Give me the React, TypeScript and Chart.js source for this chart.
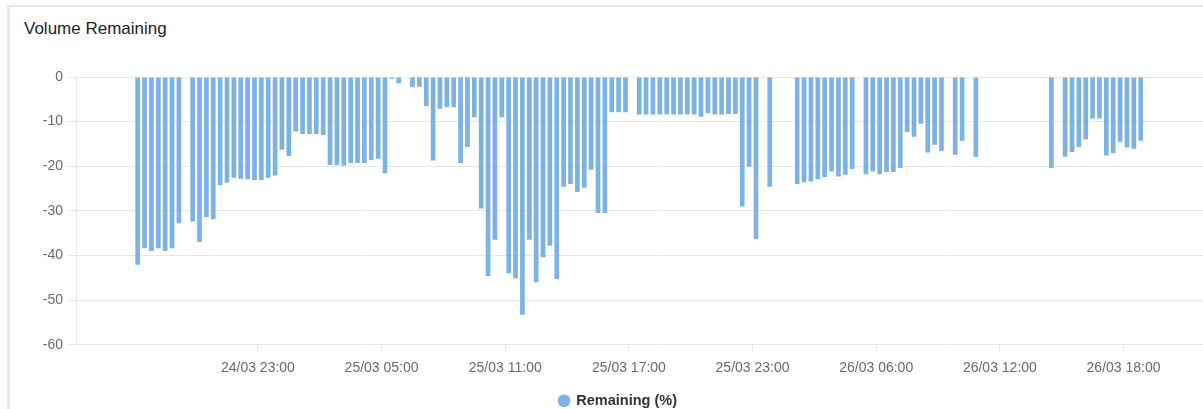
import { useEffect, useRef } from "react";
import { Chart, registerables } from "chart.js";

Chart.register(...registerables);

// ---- data ----
const seriesLabel = "Remaining (%)";

// one reading per slot, starting with the first bar on the left; null = no reading
const remaining: (number | null)[] = [
  -42.1, -38.4, -39.0, -38.4, -39.0, -38.4, -32.8, null, -32.4, -37.0,
  -31.4, -31.9, -24.2, -23.7, -22.6, -22.8, -22.9, -23.1, -23.1, -22.6,
  -22.1, -16.3, -17.7, -12.2, -12.8, -12.8, -12.8, -13.0, -19.7, -19.8,
  -19.9, -19.3, -19.3, -19.3, -18.6, -18.3, -21.6, -0.4, -1.4, null,
  -2.3, -2.2, -6.5, -18.7, -7.1, -6.8, -6.8, -19.3, -15.7, -9.0,
  -29.5, -44.6, -36.5, -9.0, -44.0, -45.1, -53.3, -36.5, -46.0, -40.4,
  -37.8, -45.3, -24.6, -24.0, -25.8, -24.8, -20.8, -30.5, -30.5, -7.9,
  -7.9, -7.9, null, -8.4, -8.4, -8.4, -8.4, -8.4, -8.4, -8.4,
  -8.4, -8.4, -8.9, -8.1, -8.4, -8.4, -8.3, -8.3, -29.0, -20.1,
  -36.3, null, -24.6, null, null, null, -24.0, -23.6, -23.4, -22.9,
  -22.4, -21.2, -22.3, -21.9, -20.6, null, -21.8, -21.2, -21.8, -21.3,
  -21.3, -20.4, -12.3, -13.4, -10.5, -16.9, -15.2, -16.6, null, -17.4,
  -14.3, null, -17.9, null, null, null, null, null, null, null,
  null, null, null, -20.4, null, -17.9, -16.8, -15.7, -14.0, -9.3,
  -9.3, -17.6, -17.1, -14.5, -15.8, -16.1, -14.3,
];

const tickLabels = [
  "24/03 23:00",
  "25/03 05:00",
  "25/03 11:00",
  "25/03 17:00",
  "25/03 23:00",
  "26/03 06:00",
  "26/03 12:00",
  "26/03 18:00",
];
// each tick label sits between this reading and the next one
const tickAfterReading = [17, 35, 53, 71, 89, 107, 125, 143];

const yMin = -60;
const yMax = 0;
const yStep = 10;

// ---- styles ----
const barColor = "rgb(125, 178, 228)";
const gridColor = "#e8e8e8";
const tickColor = "#6b6b6b";
const fontFamily = "'Liberation Sans', Arial, Helvetica, sans-serif";

export default function App() {
  const canvasRef = useRef<HTMLCanvasElement | null>(null);

  useEffect(() => {
    if (!canvasRef.current) return;
    Chart.defaults.font.family = fontFamily;
    const chart = new Chart(canvasRef.current, {
      type: "bar",
      data: {
        datasets: [
          {
            label: seriesLabel,
            data: remaining.map((v, i) => ({ x: i, y: v })) as any,
            backgroundColor: barColor,
            borderWidth: 0,
            barPercentage: 0.85,
            categoryPercentage: 0.8,
          },
        ],
      },
      options: {
        animation: false,
        responsive: true,
        maintainAspectRatio: false,
        layout: { padding: { top: 37, left: 0, right: 0, bottom: 0 } },
        plugins: {
          tooltip: { enabled: false },
          legend: {
            position: "bottom",
            labels: {
              usePointStyle: true,
              pointStyle: "circle",
              boxWidth: 10,
              boxHeight: 9,
              padding: 10,
              color: "#333",
              font: { size: 14.5, weight: "bold", family: fontFamily },
            },
          },
        },
        scales: {
          x: {
            type: "linear",
            min: -8.98,
            max: 159.87,
            bounds: "data",
            offset: false,
            afterBuildTicks: (axis: any) => {
              axis.ticks = tickAfterReading.map((i) => ({ value: i + 0.5 }));
            },
            ticks: {
              autoSkip: false,
              maxRotation: 0,
              padding: 7,
              color: tickColor,
              font: { size: 14, family: fontFamily },
              callback: (_v: any, idx: number) => tickLabels[idx],
            },
            grid: {
              drawOnChartArea: false,
              drawTicks: true,
              tickLength: 8,
              offset: false,
              color: gridColor,
            },
            border: { color: gridColor },
          },
          y: {
            min: yMin,
            max: yMax,
            ticks: {
              stepSize: yStep,
              padding: 5,
              color: tickColor,
              font: { size: 14, family: fontFamily },
            },
            grid: { color: gridColor, tickLength: 8 },
            border: { color: gridColor },
            afterFit: (axis: any) => {
              axis.width = 76;
            },
          },
        },
      },
    } as any);
    return () => chart.destroy();
  }, []);

  return (
    <div
      style={{
        position: "fixed",
        left: 0,
        top: 0,
        width: 1203,
        height: 409,
        overflow: "hidden",
        background: "#fff",
      }}
    >
      <div
        style={{
          position: "absolute",
          left: 7,
          top: 5,
          width: 1400,
          height: 600,
          borderTop: "2px solid #e6e6e6",
          borderLeft: "3px solid #e9e9e9",
          boxSizing: "border-box",
        }}
      />
      <div
        style={{
          position: "absolute",
          left: 24,
          top: 19,
          fontFamily,
          fontSize: 17,
          lineHeight: "19px",
          color: "#222",
          whiteSpace: "nowrap",
        }}
      >
        Volume Remaining
      </div>
      <div
        style={{
          position: "absolute",
          left: 0,
          top: 40,
          width: 1236,
          height: 378,
        }}
      >
        <canvas ref={canvasRef} />
      </div>
    </div>
  );
}
